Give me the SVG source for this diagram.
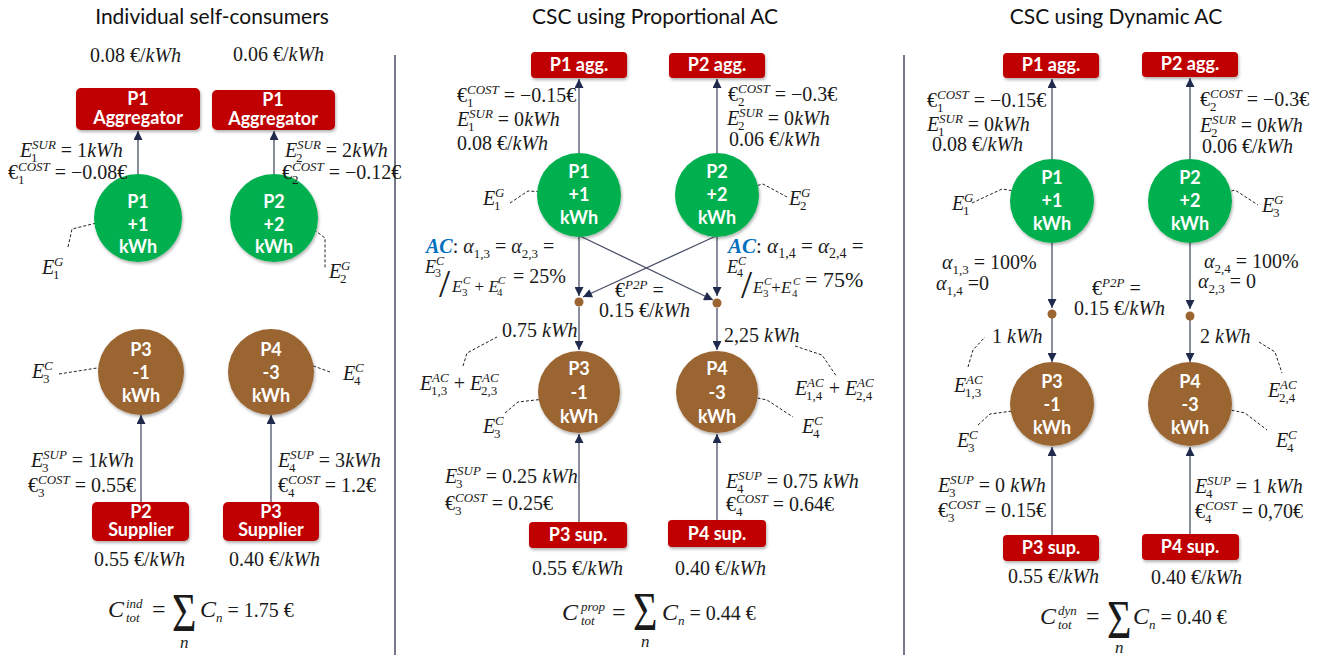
<svg xmlns="http://www.w3.org/2000/svg" width="1325" height="655" viewBox="0 0 1325 655">
<defs>
<style>
.m{font-family:"Liberation Serif","Times New Roman",serif;font-size:20px;fill:#1a1a1a}
.i{font-style:italic}
.s{font-size:13px}
.big{font-size:24px}
.ac{font-weight:bold;font-style:italic;fill:#0070C0}
.t{font-family:Lato,"Open Sans",sans-serif;font-weight:bold;font-size:18px;fill:#fff;text-anchor:middle}
.h{font-family:Lato,"Open Sans",sans-serif;font-size:21px;fill:#111;text-anchor:middle}
.box{fill:#C00000;filter:url(#sh)}
.gr{fill:#00B050;filter:url(#sh)}
.br{fill:#9B6532;filter:url(#sh)}
.dot{fill:#9B6532}
.ln{stroke:#4a5068;stroke-width:1.3;fill:none;marker-end:url(#ah)}
.d{stroke:#222;stroke-width:1;stroke-dasharray:3 2;fill:none}
.dv{stroke:#747888;stroke-width:2}
.sig{font-size:42px}
</style>
<marker id="ah" viewBox="0 0 10 10" refX="10" refY="5" markerWidth="11" markerHeight="9" markerUnits="userSpaceOnUse" orient="auto"><path d="M0,0 L10,5 L0,10 z" fill="#1f2a4d"/></marker>
<filter id="sh" x="-20%" y="-20%" width="150%" height="150%"><feDropShadow dx="1" dy="2" stdDeviation="1.5" flood-color="#000" flood-opacity="0.3"/></filter>
</defs>
<rect width="1325" height="655" fill="#fff"/>

<!-- titles and dividers -->
<text class="h" x="212" y="24">Individual self-consumers</text>
<text class="h" x="655" y="24">CSC using Proportional AC</text>
<text class="h" x="1116" y="24">CSC using Dynamic AC</text>
<line class="dv" x1="395" y1="55" x2="395" y2="655"/>
<line class="dv" x1="904" y1="55" x2="904" y2="655"/>

<!-- connectors -->
<g id="connectors">
<line class="ln" x1="138" y1="174" x2="138" y2="131"/>
<line class="ln" x1="274" y1="174" x2="274" y2="131"/>
<line class="ln" x1="141" y1="502" x2="141" y2="415"/>
<line class="ln" x1="271" y1="502" x2="271" y2="415"/>

<line class="ln" x1="579" y1="153" x2="579" y2="79"/>
<line class="ln" x1="717" y1="153" x2="717" y2="79"/>
<line class="ln" x1="579" y1="237" x2="579" y2="296"/>
<line class="ln" x1="717" y1="237" x2="717" y2="296"/>
<line class="ln" x1="580" y1="236" x2="713" y2="300"/>
<line class="ln" x1="716" y1="236" x2="583" y2="297"/>
<line class="ln" x1="579" y1="307" x2="579" y2="350"/>
<line class="ln" x1="717" y1="308" x2="717" y2="350"/>
<line class="ln" x1="579" y1="522" x2="579" y2="434"/>
<line class="ln" x1="717" y1="520" x2="717" y2="434"/>

<line class="ln" x1="1052" y1="159" x2="1052" y2="79"/>
<line class="ln" x1="1190" y1="159" x2="1190" y2="78"/>
<line class="ln" x1="1052" y1="243" x2="1052" y2="308"/>
<line class="ln" x1="1190" y1="243" x2="1190" y2="309"/>
<line class="ln" x1="1052" y1="318" x2="1052" y2="362"/>
<line class="ln" x1="1190" y1="320" x2="1190" y2="362"/>
<line class="ln" x1="1052" y1="535" x2="1052" y2="447"/>
<line class="ln" x1="1190" y1="534" x2="1190" y2="447"/>

<!-- dashed leaders -->
<polyline class="d" points="68,247 72,229 117,218"/>
<polyline class="d" points="298,218 317,232 325,238 325,268"/>
<polyline class="d" points="59,374 97,368 117,376"/>
<polyline class="d" points="286,375 308,364 330,372"/>

<polyline class="d" points="510,203 528,191 565,193"/>
<polyline class="d" points="748,188 763,184 787,197"/>
<polyline class="d" points="463,366 467,353 497,337"/>
<polyline class="d" points="795,346 822,355 837,377"/>
<polyline class="d" points="505,413 518,402 562,397"/>
<polyline class="d" points="733,393 767,400 793,417"/>

<polyline class="d" points="972,203 1002,189 1033,194"/>
<polyline class="d" points="1217,195 1235,190 1258,205"/>
<polyline class="d" points="968,367 973,350 985,337"/>
<polyline class="d" points="1259,342 1275,352 1282,373"/>
<polyline class="d" points="978,425 990,414 1035,408"/>
<polyline class="d" points="1207,405 1245,413 1267,430"/>
</g>

<!-- Panel 1 nodes -->
<g id="p1-agg1"><rect class="box" x="76" y="88" width="124" height="42" rx="5"/><text class="t" x="138" y="105">P1</text><text class="t" x="138" y="124">Aggregator</text></g>
<g id="p1-agg2"><rect class="box" x="212" y="90" width="123" height="40" rx="5"/><text class="t" x="273" y="106">P1</text><text class="t" x="273" y="125">Aggregator</text></g>
<g id="p1-P1"><circle class="gr" cx="138" cy="218" r="44"/><text class="t" x="138" y="208">P1</text><text class="t" x="138" y="231">+1</text><text class="t" x="138" y="253">kWh</text></g>
<g id="p1-P2"><circle class="gr" cx="274" cy="218" r="44"/><text class="t" x="274" y="208">P2</text><text class="t" x="274" y="231">+2</text><text class="t" x="274" y="253">kWh</text></g>
<g id="p1-P3"><circle class="br" cx="141" cy="372" r="43"/><text class="t" x="141" y="356">P3</text><text class="t" x="141" y="379">-1</text><text class="t" x="141" y="402">kWh</text></g>
<g id="p1-P4"><circle class="br" cx="271" cy="372" r="43"/><text class="t" x="271" y="356">P4</text><text class="t" x="271" y="379">-3</text><text class="t" x="271" y="402">kWh</text></g>
<g id="p1-sup1"><rect class="box" x="92" y="502" width="97" height="39" rx="5"/><text class="t" x="141" y="518">P2</text><text class="t" x="141" y="536">Supplier</text></g>
<g id="p1-sup2"><rect class="box" x="223" y="502" width="96" height="39" rx="5"/><text class="t" x="271" y="518">P3</text><text class="t" x="271" y="536">Supplier</text></g>

<!-- Panel 2 nodes -->
<g id="p2-agg1"><rect class="box" x="531" y="52" width="96" height="26" rx="4"/><text class="t" x="579" y="71">P1 agg.</text></g>
<g id="p2-agg2"><rect class="box" x="669" y="53" width="96" height="25" rx="4"/><text class="t" x="717" y="71">P2 agg.</text></g>
<g id="p2-P1"><circle class="gr" cx="579" cy="195" r="42"/><text class="t" x="579" y="178">P1</text><text class="t" x="579" y="201">+1</text><text class="t" x="579" y="224">kWh</text></g>
<g id="p2-P2"><circle class="gr" cx="717" cy="195" r="42"/><text class="t" x="717" y="178">P2</text><text class="t" x="717" y="201">+2</text><text class="t" x="717" y="224">kWh</text></g>
<g id="p2-dot3"><circle class="dot" cx="579" cy="302" r="4.5"/></g>
<g id="p2-dot4"><circle class="dot" cx="717" cy="303" r="4.5"/></g>
<g id="p2-P3"><circle class="br" cx="579" cy="392" r="41"/><text class="t" x="579" y="375">P3</text><text class="t" x="579" y="399">-1</text><text class="t" x="579" y="423">kWh</text></g>
<g id="p2-P4"><circle class="br" cx="717" cy="392" r="41"/><text class="t" x="717" y="375">P4</text><text class="t" x="717" y="399">-3</text><text class="t" x="717" y="423">kWh</text></g>
<g id="p2-sup3"><rect class="box" x="529" y="522" width="98" height="26" rx="4"/><text class="t" x="578" y="541">P3 sup.</text></g>
<g id="p2-sup4"><rect class="box" x="668" y="520" width="98" height="27" rx="4"/><text class="t" x="717" y="540">P4 sup.</text></g>

<!-- Panel 3 nodes -->
<g id="p3-agg1"><rect class="box" x="1003" y="53" width="96" height="25" rx="4"/><text class="t" x="1051" y="71">P1 agg.</text></g>
<g id="p3-agg2"><rect class="box" x="1142" y="52" width="96" height="25" rx="4"/><text class="t" x="1190" y="70">P2 agg.</text></g>
<g id="p3-P1"><circle class="gr" cx="1052" cy="201" r="42"/><text class="t" x="1052" y="184">P1</text><text class="t" x="1052" y="207">+1</text><text class="t" x="1052" y="230">kWh</text></g>
<g id="p3-P2"><circle class="gr" cx="1190" cy="201" r="42"/><text class="t" x="1190" y="184">P2</text><text class="t" x="1190" y="207">+2</text><text class="t" x="1190" y="230">kWh</text></g>
<g id="p3-dot3"><circle class="dot" cx="1052" cy="314" r="4.5"/></g>
<g id="p3-dot4"><circle class="dot" cx="1190" cy="316" r="4.5"/></g>
<g id="p3-P3"><circle class="br" cx="1052" cy="404" r="42"/><text class="t" x="1052" y="388">P3</text><text class="t" x="1052" y="411">-1</text><text class="t" x="1052" y="434">kWh</text></g>
<g id="p3-P4"><circle class="br" cx="1190" cy="404" r="42"/><text class="t" x="1190" y="388">P4</text><text class="t" x="1190" y="411">-3</text><text class="t" x="1190" y="434">kWh</text></g>
<g id="p3-sup3"><rect class="box" x="1003" y="535" width="96" height="26" rx="4"/><text class="t" x="1051" y="554">P3 sup.</text></g>
<g id="p3-sup4"><rect class="box" x="1142" y="534" width="97" height="26" rx="4"/><text class="t" x="1190" y="553">P4 sup.</text></g>

<!-- Panel 1 labels -->
<g id="labels1">
<text class="m" x="90" y="62">0.08 €/<tspan class="i">kWh</tspan></text>
<text class="m" x="233" y="61">0.06 €/<tspan class="i">kWh</tspan></text>
<text class="m" x="20" y="157"><tspan class="i">E</tspan><tspan class="s" x="31" dy="5">1</tspan><tspan class="s i" x="32" dy="-13">SUR</tspan><tspan dy="8"> = 1</tspan><tspan class="i">kWh</tspan></text>
<text class="m" x="8" y="179">€<tspan class="s" x="18" dy="5">1</tspan><tspan class="s i" x="18" dy="-13">COST</tspan><tspan dy="8"> = −0.08€</tspan></text>
<text class="m" x="285" y="157"><tspan class="i">E</tspan><tspan class="s" x="296" dy="5">2</tspan><tspan class="s i" x="297" dy="-13">SUR</tspan><tspan dy="8"> = 2</tspan><tspan class="i">kWh</tspan></text>
<text class="m" x="282" y="179">€<tspan class="s" x="292" dy="5">2</tspan><tspan class="s i" x="292" dy="-13">COST</tspan><tspan dy="8"> = −0.12€</tspan></text>
<text class="m" x="42" y="274"><tspan class="i">E</tspan><tspan class="s" x="53" dy="5">1</tspan><tspan class="s i" x="54" dy="-13">G</tspan></text>
<text class="m" x="329" y="278"><tspan class="i">E</tspan><tspan class="s" x="340" dy="5">2</tspan><tspan class="s i" x="341" dy="-13">G</tspan></text>
<text class="m" x="32" y="378"><tspan class="i">E</tspan><tspan class="s" x="43" dy="5">3</tspan><tspan class="s i" x="44" dy="-13">C</tspan></text>
<text class="m" x="343" y="380"><tspan class="i">E</tspan><tspan class="s" x="354" dy="5">4</tspan><tspan class="s i" x="355" dy="-13">C</tspan></text>
<text class="m" x="31" y="467"><tspan class="i">E</tspan><tspan class="s" x="42" dy="5">3</tspan><tspan class="s i" x="43" dy="-13">SUP</tspan><tspan dy="8"> = 1</tspan><tspan class="i">kWh</tspan></text>
<text class="m" x="28" y="492">€<tspan class="s" x="38" dy="5">3</tspan><tspan class="s i" x="38" dy="-13">COST</tspan><tspan dy="8"> = 0.55€</tspan></text>
<text class="m" x="278" y="467"><tspan class="i">E</tspan><tspan class="s" x="289" dy="5">4</tspan><tspan class="s i" x="290" dy="-13">SUP</tspan><tspan dy="8"> = 3</tspan><tspan class="i">kWh</tspan></text>
<text class="m" x="278" y="492">€<tspan class="s" x="288" dy="5">4</tspan><tspan class="s i" x="288" dy="-13">COST</tspan><tspan dy="8"> = 1.2€</tspan></text>
<text class="m" x="94" y="566">0.55 €/<tspan class="i">kWh</tspan></text>
<text class="m" x="229" y="566">0.40 €/<tspan class="i">kWh</tspan></text>
<text class="m" x="108" y="617"><tspan class="i big">C</tspan><tspan class="s i" x="126" dy="5">tot</tspan><tspan class="s i" x="126" dy="-14">ind</tspan><tspan x="152" dy="9" class="big">=</tspan></text>
<text class="m sig" transform="translate(172,631) scale(1,1.3)">Σ</text>
<text class="m i" x="180" y="648" style="font-size:17px">n</text>
<text class="m" x="200" y="617"><tspan class="i big">C</tspan><tspan class="s i" dy="5">n</tspan><tspan dy="-5"> = 1.75 €</tspan></text>
</g>

<!-- Panel 2 labels -->
<g id="labels2">
<text class="m" x="457" y="102">€<tspan class="s" x="467" dy="5">1</tspan><tspan class="s i" x="467" dy="-13">COST</tspan><tspan dy="8"> = −0.15€</tspan></text>
<text class="m" x="457" y="126"><tspan class="i">E</tspan><tspan class="s" x="468" dy="5">1</tspan><tspan class="s i" x="469" dy="-13">SUR</tspan><tspan dy="8"> = 0</tspan><tspan class="i">kWh</tspan></text>
<text class="m" x="457" y="150">0.08 €/<tspan class="i">kWh</tspan></text>
<text class="m" x="728" y="101">€<tspan class="s" x="738" dy="5">2</tspan><tspan class="s i" x="738" dy="-13">COST</tspan><tspan dy="8"> = −0.3€</tspan></text>
<text class="m" x="727" y="125"><tspan class="i">E</tspan><tspan class="s" x="738" dy="5">2</tspan><tspan class="s i" x="739" dy="-13">SUR</tspan><tspan dy="8"> = 0</tspan><tspan class="i">kWh</tspan></text>
<text class="m" x="729" y="146">0.06 €/<tspan class="i">kWh</tspan></text>
<text class="m" x="483" y="205"><tspan class="i">E</tspan><tspan class="s" x="494" dy="5">1</tspan><tspan class="s i" x="495" dy="-13">G</tspan></text>
<text class="m" x="789" y="205"><tspan class="i">E</tspan><tspan class="s" x="800" dy="5">2</tspan><tspan class="s i" x="801" dy="-13">G</tspan></text>

<text class="m" x="426" y="253"><tspan class="ac">AC</tspan>: <tspan class="i">α</tspan><tspan class="s" dy="5">1,3</tspan><tspan dy="-5"> = </tspan><tspan class="i">α</tspan><tspan class="s" dy="5">2,3</tspan><tspan dy="-5"> =</tspan></text>
<text class="m" x="425" y="273" style="font-size:18px"><tspan class="i">E</tspan><tspan class="s" x="435" dy="4" style="font-size:12px">3</tspan><tspan class="s i" x="436" dy="-12" style="font-size:12px">C</tspan></text>
<text class="m" x="439" y="297" style="font-size:40px">/</text>
<text class="m" x="452" y="292" style="font-size:17px"><tspan class="i">E</tspan><tspan x="462" dy="4" style="font-size:11px">3</tspan><tspan class="i" x="463" dy="-12" style="font-size:11px">C</tspan><tspan dy="8"> + </tspan><tspan class="i">E</tspan><tspan x="497" dy="4" style="font-size:11px">4</tspan><tspan class="i" x="498" dy="-12" style="font-size:11px">C</tspan></text>
<text class="m" x="513" y="283"><tspan> = 25%</tspan></text>

<text class="m" x="728" y="253" style="font-size:21px"><tspan class="ac">AC</tspan>: <tspan class="i">α</tspan><tspan class="s" dy="5" style="font-size:14px">1,4</tspan><tspan dy="-5"> = </tspan><tspan class="i">α</tspan><tspan class="s" dy="5" style="font-size:14px">2,4</tspan><tspan dy="-5"> =</tspan></text>
<text class="m" x="727" y="273" style="font-size:18px"><tspan class="i">E</tspan><tspan class="s" x="737" dy="4" style="font-size:12px">4</tspan><tspan class="s i" x="738" dy="-12" style="font-size:12px">C</tspan></text>
<text class="m" x="741" y="298" style="font-size:40px">/</text>
<text class="m" x="753" y="293" style="font-size:17px"><tspan class="i">E</tspan><tspan x="763" dy="4" style="font-size:11px">3</tspan><tspan class="i" x="764" dy="-12" style="font-size:11px">C</tspan><tspan dy="8">+</tspan><tspan class="i">E</tspan><tspan x="792" dy="4" style="font-size:11px">4</tspan><tspan class="i" x="793" dy="-12" style="font-size:11px">C</tspan></text>
<text class="m" x="805" y="287" style="font-size:22px">= 75%</text>

<text class="m" x="615" y="297">€<tspan class="s i" dy="-8">P2P</tspan><tspan dy="8"> =</tspan></text>
<text class="m" x="599" y="317">0.15 €/<tspan class="i">kWh</tspan></text>
<text class="m" x="502" y="337">0.75 <tspan class="i">kWh</tspan></text>
<text class="m" x="724" y="342">2,25 <tspan class="i">kWh</tspan></text>
<text class="m" x="420" y="390"><tspan class="i">E</tspan><tspan class="s" x="431" dy="5">1,3</tspan><tspan class="s i" x="432" dy="-13">AC</tspan><tspan dy="8"> + </tspan><tspan class="i">E</tspan><tspan class="s" x="481" dy="5">2,3</tspan><tspan class="s i" x="482" dy="-13">AC</tspan></text>
<text class="m" x="795" y="395"><tspan class="i">E</tspan><tspan class="s" x="806" dy="5">1,4</tspan><tspan class="s i" x="807" dy="-13">AC</tspan><tspan dy="8"> + </tspan><tspan class="i">E</tspan><tspan class="s" x="856" dy="5">2,4</tspan><tspan class="s i" x="857" dy="-13">AC</tspan></text>
<text class="m" x="483" y="433"><tspan class="i">E</tspan><tspan class="s" x="494" dy="5">3</tspan><tspan class="s i" x="495" dy="-13">C</tspan></text>
<text class="m" x="802" y="433"><tspan class="i">E</tspan><tspan class="s" x="813" dy="5">4</tspan><tspan class="s i" x="814" dy="-13">C</tspan></text>
<text class="m" x="445" y="483"><tspan class="i">E</tspan><tspan class="s" x="456" dy="5">3</tspan><tspan class="s i" x="457" dy="-13">SUP</tspan><tspan dy="8"> = 0.25 </tspan><tspan class="i">kWh</tspan></text>
<text class="m" x="445" y="510">€<tspan class="s" x="455" dy="5">3</tspan><tspan class="s i" x="455" dy="-13">COST</tspan><tspan dy="8"> = 0.25€</tspan></text>
<text class="m" x="726" y="488"><tspan class="i">E</tspan><tspan class="s" x="737" dy="5">4</tspan><tspan class="s i" x="738" dy="-13">SUP</tspan><tspan dy="8"> = 0.75 </tspan><tspan class="i">kWh</tspan></text>
<text class="m" x="726" y="511">€<tspan class="s" x="736" dy="5">4</tspan><tspan class="s i" x="736" dy="-13">COST</tspan><tspan dy="8"> = 0.64€</tspan></text>
<text class="m" x="532" y="575">0.55 €/<tspan class="i">kWh</tspan></text>
<text class="m" x="675" y="575">0.40 €/<tspan class="i">kWh</tspan></text>
<text class="m" x="562" y="620"><tspan class="i big">C</tspan><tspan class="s i" x="581" dy="5">tot</tspan><tspan class="s i" x="581" dy="-14">prop</tspan><tspan x="612" dy="9" class="big">=</tspan></text>
<text class="m sig" transform="translate(633,630) scale(1,1.3)">Σ</text>
<text class="m i" x="641" y="647" style="font-size:17px">n</text>
<text class="m" x="662" y="620"><tspan class="i big">C</tspan><tspan class="s i" dy="5">n</tspan><tspan dy="-5"> = 0.44 €</tspan></text>
</g>

<!-- Panel 3 labels -->
<g id="labels3">
<text class="m" x="927" y="107">€<tspan class="s" x="937" dy="5">1</tspan><tspan class="s i" x="937" dy="-13">COST</tspan><tspan dy="8"> = −0.15€</tspan></text>
<text class="m" x="927" y="131"><tspan class="i">E</tspan><tspan class="s" x="938" dy="5">1</tspan><tspan class="s i" x="939" dy="-13">SUR</tspan><tspan dy="8"> = 0</tspan><tspan class="i">kWh</tspan></text>
<text class="m" x="932" y="151">0.08 €/<tspan class="i">kWh</tspan></text>
<text class="m" x="1200" y="106">€<tspan class="s" x="1210" dy="5">2</tspan><tspan class="s i" x="1210" dy="-13">COST</tspan><tspan dy="8"> = −0.3€</tspan></text>
<text class="m" x="1200" y="132"><tspan class="i">E</tspan><tspan class="s" x="1211" dy="5">2</tspan><tspan class="s i" x="1212" dy="-13">SUR</tspan><tspan dy="8"> = 0</tspan><tspan class="i">kWh</tspan></text>
<text class="m" x="1202" y="153">0.06 €/<tspan class="i">kWh</tspan></text>
<text class="m" x="952" y="210"><tspan class="i">E</tspan><tspan class="s" x="963" dy="5">1</tspan><tspan class="s i" x="964" dy="-13">G</tspan></text>
<text class="m" x="1262" y="212"><tspan class="i">E</tspan><tspan class="s" x="1273" dy="5">3</tspan><tspan class="s i" x="1274" dy="-13">G</tspan></text>
<text class="m" x="942" y="269"><tspan class="i">α</tspan><tspan class="s" dy="5">1,3</tspan><tspan dy="-5">  = 100%</tspan></text>
<text class="m" x="936" y="290"><tspan class="i">α</tspan><tspan class="s" dy="5">1,4</tspan><tspan dy="-5">  =0</tspan></text>
<text class="m" x="1092" y="295">€<tspan class="s i" dy="-8">P2P</tspan><tspan dy="8"> =</tspan></text>
<text class="m" x="1074" y="315">0.15 €/<tspan class="i">kWh</tspan></text>
<text class="m" x="1204" y="268"><tspan class="i">α</tspan><tspan class="s" dy="5">2,4</tspan><tspan dy="-5"> = 100%</tspan></text>
<text class="m" x="1198" y="288"><tspan class="i">α</tspan><tspan class="s" dy="5">2,3</tspan><tspan dy="-5"> = 0</tspan></text>
<text class="m" x="992" y="343">1 <tspan class="i">kWh</tspan></text>
<text class="m" x="1200" y="343">2 <tspan class="i">kWh</tspan></text>
<text class="m" x="954" y="392"><tspan class="i">E</tspan><tspan class="s" x="965" dy="5">1,3</tspan><tspan class="s i" x="966" dy="-13">AC</tspan></text>
<text class="m" x="1268" y="397"><tspan class="i">E</tspan><tspan class="s" x="1279" dy="5">2,4</tspan><tspan class="s i" x="1280" dy="-13">AC</tspan></text>
<text class="m" x="957" y="447"><tspan class="i">E</tspan><tspan class="s" x="968" dy="5">3</tspan><tspan class="s i" x="969" dy="-13">C</tspan></text>
<text class="m" x="1276" y="447"><tspan class="i">E</tspan><tspan class="s" x="1287" dy="5">4</tspan><tspan class="s i" x="1288" dy="-13">C</tspan></text>
<text class="m" x="938" y="492"><tspan class="i">E</tspan><tspan class="s" x="949" dy="5">3</tspan><tspan class="s i" x="950" dy="-13">SUP</tspan><tspan dy="8"> = 0 </tspan><tspan class="i">kWh</tspan></text>
<text class="m" x="938" y="517">€<tspan class="s" x="948" dy="5">3</tspan><tspan class="s i" x="948" dy="-13">COST</tspan><tspan dy="8"> = 0.15€</tspan></text>
<text class="m" x="1195" y="493"><tspan class="i">E</tspan><tspan class="s" x="1206" dy="5">4</tspan><tspan class="s i" x="1207" dy="-13">SUP</tspan><tspan dy="8"> = 1 </tspan><tspan class="i">kWh</tspan></text>
<text class="m" x="1195" y="518">€<tspan class="s" x="1205" dy="5">4</tspan><tspan class="s i" x="1205" dy="-13">COST</tspan><tspan dy="8"> = 0,70€</tspan></text>
<text class="m" x="1008" y="583">0.55 €/<tspan class="i">kWh</tspan></text>
<text class="m" x="1151" y="584">0.40 €/<tspan class="i">kWh</tspan></text>
<text class="m" x="1040" y="624"><tspan class="i big">C</tspan><tspan class="s i" x="1058" dy="5">tot</tspan><tspan class="s i" x="1058" dy="-14">dyn</tspan><tspan x="1086" dy="9" class="big">=</tspan></text>
<text class="m sig" transform="translate(1107,638) scale(1,1.3)">Σ</text>
<text class="m i" x="1115" y="653" style="font-size:17px">n</text>
<text class="m" x="1133" y="624"><tspan class="i big">C</tspan><tspan class="s i" dy="5">n</tspan><tspan dy="-5"> = 0.40 €</tspan></text>
</g>
</svg>
